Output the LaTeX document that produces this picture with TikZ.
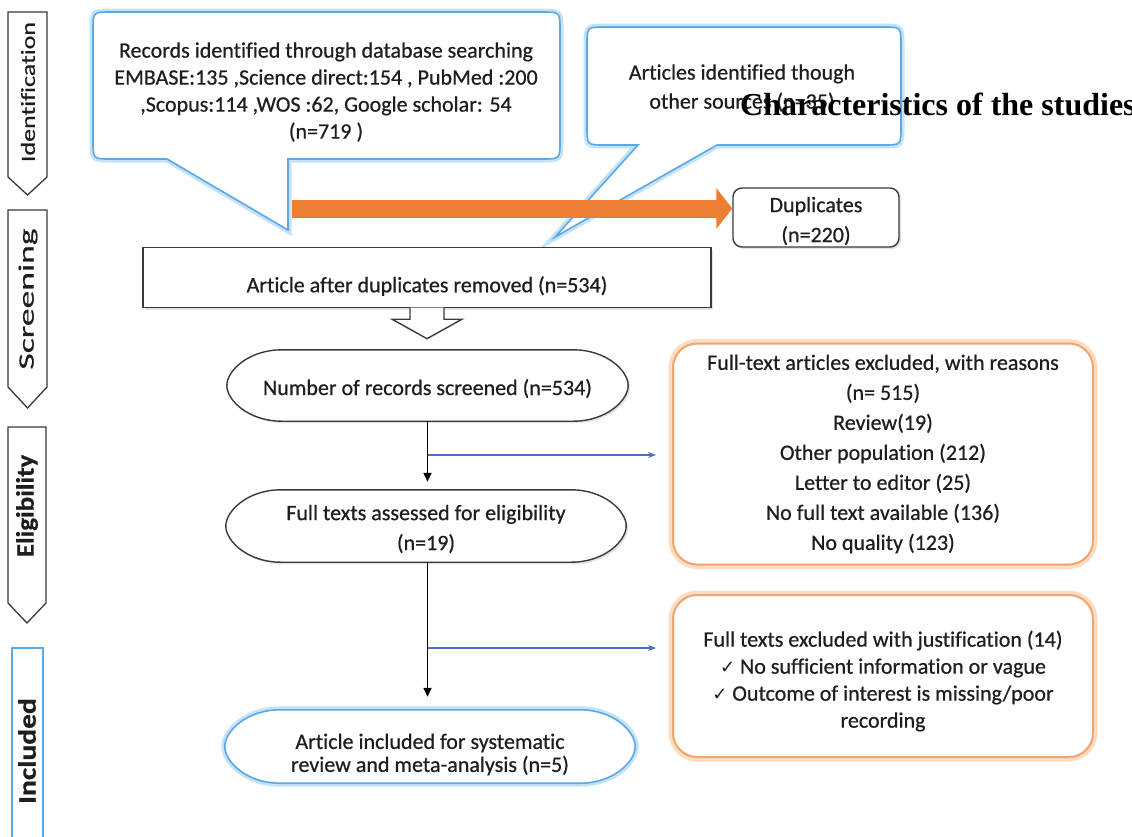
\documentclass[tikz,border=0pt]{standalone}
\usepackage{fontspec}
\usepackage{graphicx}
\setmainfont{Carlito}[Ligatures=NoCommon, RawFeature={embolden=0.6}]
\newfontfamily\serifb{Liberation Serif}
\newfontfamily\dejavu{DejaVu Sans}
\usetikzlibrary{arrows.meta,calc,shadows}
\pgfdeclarelayer{bg}
\pgfsetlayers{bg,main}
\definecolor{txt}{HTML}{1E1E1E}
\definecolor{cblue}{HTML}{5AA9E6}
\definecolor{gblue}{HTML}{C4E2F8}
\definecolor{orng}{HTML}{ED7D31}
\definecolor{oborder}{HTML}{F2A46B}
\definecolor{oglow}{HTML}{FCDDC4}
\definecolor{lblue}{HTML}{4472C4}
\definecolor{dk}{HTML}{3A3A3A}
% oval around a rectangular node: #2 node, #3 half height, #4 end length
\newcommand\myoval[4][]{%
  \draw[#1] ($(#2.north east)+(-#4,0)$)
    .. controls ($(#2.north east)+(-0.4*#4,0)$) and ($(#2.east)+(0,-0.42*#3)$) .. (#2.east)
    .. controls ($(#2.east)+(0,0.42*#3)$) and ($(#2.south east)+(-0.4*#4,0)$) .. ($(#2.south east)+(-#4,0)$)
    -- ($(#2.south west)+(#4,0)$)
    .. controls ($(#2.south west)+(0.4*#4,0)$) and ($(#2.west)+(0,0.42*#3)$) .. (#2.west)
    .. controls ($(#2.west)+(0,-0.42*#3)$) and ($(#2.north west)+(0.4*#4,0)$) .. ($(#2.north west)+(#4,0)$)
    -- cycle;}
\newcommand\chk{{\dejavu\fontsize{18}{27}\selectfont ✓}}
\begin{document}
\begin{tikzpicture}[x=1pt,y=-1pt,
  every node/.style={text=txt, font=\fontsize{22}{27}\selectfont, inner sep=0pt, align=center},
  callout/.style={fill=white, draw=cblue, line width=1.6pt, preaction={draw=gblue, line width=7pt}},
  blackbox/.style={draw=dk, line width=1.4pt, fill=white, drop shadow={shadow xshift=2pt, shadow yshift=-2pt, opacity=0.22}},
  orbox/.style={draw=oborder, line width=2pt, fill=white, rounded corners=24pt, preaction={draw=oglow, line width=9pt, rounded corners=24pt}},
  banner/.style={draw=dk, line width=1.3pt, fill=white},
  blk/.style={draw=black, line width=1.5pt, -{Triangle[length=9pt,width=8pt]}},
  bl/.style={draw=lblue, line width=1.3pt, -{Stealth[length=8pt,width=6pt]}},
  hollow/.style={draw=dk, line width=1.4pt, fill=white},
  oarrow/.style={draw=orng, line width=18pt, -{Triangle[length=16pt,width=40pt]}}
]
\useasboundingbox (0,0) rectangle (1132,836);
\clip (0,0) rectangle (1132,836);
\begin{pgfonlayer}{bg}
\fill[white] (0,0) rectangle (1132,836);
\end{pgfonlayer}

% left stage banners
\draw[banner] (8,12) -- (47,12) -- (47,177) -- (27.5,195) -- (8,177) -- cycle;
\node[rotate=90, font=\fontsize{20}{24}\selectfont] (tid) at (28,92) {\scalebox{1.3}[1]{Identification}};
\draw[banner] (8,210) -- (47,210) -- (47,387) -- (27.5,408) -- (8,387) -- cycle;
\node[rotate=90, font=\fontsize{22}{24}\selectfont] (tsc) at (28,299) {\scalebox{1.62}[1]{Screening}};
\draw[banner] (8,427) -- (46,427) -- (46,603) -- (27,623) -- (8,603) -- cycle;
\node[rotate=90, font=\bfseries\fontsize{25}{28}\selectfont] (tel) at (27,506) {\scalebox{1.08}[1]{Eligibility}};
\draw[draw=cblue, line width=1.2pt, fill=white] (12,648) rectangle (43,845);
\node[rotate=90, font=\bfseries\fontsize{25}{28}\selectfont] (tin) at (27,751) {\scalebox{1.18}[1]{Included}};

% callout 1
\draw[callout] (167,159) -- (111,159) .. controls (93,159) .. (93,141) -- (93,30)
  .. controls (93,12) .. (111,12) -- (542,12) .. controls (560,12) .. (560,30)
  -- (560,141) .. controls (560,159) .. (542,159) -- (288,159) -- (288,230) -- cycle;
\node (c1) at (326,92) {Records identified through database searching\\
  EMBASE:135 ,Science direct:154 , PubMed :200\\
  ,Scopus:114 ,WOS :62, Google scholar: 54\\
  (n=719 )};

% callout 2
\draw[callout] (638,145) -- (605,145) .. controls (587,145) .. (587,127) -- (587,45)
  .. controls (587,27) .. (605,27) -- (883,27) .. controls (901,27) .. (901,45)
  -- (901,127) .. controls (901,145) .. (883,145) -- (717,145) -- (555,237) -- cycle;
\node[font=\fontsize{22}{29}\selectfont] (c2) at (742,88) {Articles identified though\\other sources (n=35)};

% duplicates
\node[blackbox, rounded corners=9pt, minimum width=166pt, minimum height=59pt] (dup) at (816,217.5) {};
\node[font=\fontsize{22}{30}\selectfont] (dupT) at (816,221) {Duplicates\\(n=220)};
\coordinate (os) at (292,208.5);
\draw[oarrow] (os) -- (dup.west |- os);

% article after duplicates removed
\node[blackbox, minimum width=568pt, minimum height=60pt] (art) at (427,277.5) {};
\node (artT) at (427,286) {Article after duplicates removed (n=534)};

% ovals (shape placeholders) and their texts
\node[minimum width=401pt, minimum height=71pt] (rec) at (427.5,385.5) {};
\node (recT) at (427.5,388.5) {Number of records screened (n=534)};
\node[minimum width=400pt, minimum height=72pt] (ft) at (426,526) {};
\node[font=\fontsize{22}{30}\selectfont] (ftT) at (426,529) {Full texts assessed for eligibility\\(n=19)};
\node[minimum width=410pt, minimum height=73pt] (ai) at (430,746.5) {};
\node[font=\fontsize{22}{23}\selectfont] (aiT) at (430,754.5) {Article included for systematic\\review and meta-analysis (n=5)};
\begin{pgfonlayer}{bg}
\myoval[blackbox]{rec}{35.5}{55}
\myoval[blackbox]{ft}{36}{55}
\myoval[callout]{ai}{36.5}{55}
\end{pgfonlayer}

% hollow arrow
\draw[hollow] ($(art.south)+(-17,-0.7)$) -- ++(0,11.7) -- ++(-18,0) -- ($(art.south)+(0,30.5)$)
  -- ($(art.south)+(35,11)$) -- ($(art.south)+(17,11)$) -- ++(0,-11.7);

% exclusion boxes
\node[orbox, minimum width=420pt, minimum height=221pt, font=\fontsize{22}{30}\selectfont] (ex1) at (883,454)
  {Full-text articles excluded, with reasons\\(n= 515)\\Review(19)\\Other population (212)\\Letter to editor (25)\\No full text available (136)\\No quality (123)};
\node[orbox, minimum width=420pt, minimum height=162pt] (ex2) at (883,676) {};
\node (ex2T) at (883,681)
  {Full texts excluded with justification (14)\\\chk{} No sufficient information or vague\\\chk{} Outcome of interest is missing/poor\\recording};

% connectors
\draw[blk, shorten >=8pt] (rec.south) -- (rec.south |- ft.north);
\draw[blk, shorten >=13pt] (rec.south |- ft.south) -- (rec.south |- ai.north);
\coordinate (j1) at (427.5,455);
\coordinate (j2) at (427.5,648);
\draw[bl, shorten >=16pt] (j1) -- (ex1.west |- j1);
\draw[bl, shorten >=16pt] (j2) -- (ex2.west |- j2);

% overlapping heading
\node[anchor=base west, text=black, font=\serifb\bfseries\fontsize{32}{36}\selectfont] (chr) at (740,115) {Characteristics of the studies};
\end{tikzpicture}
\end{document}
